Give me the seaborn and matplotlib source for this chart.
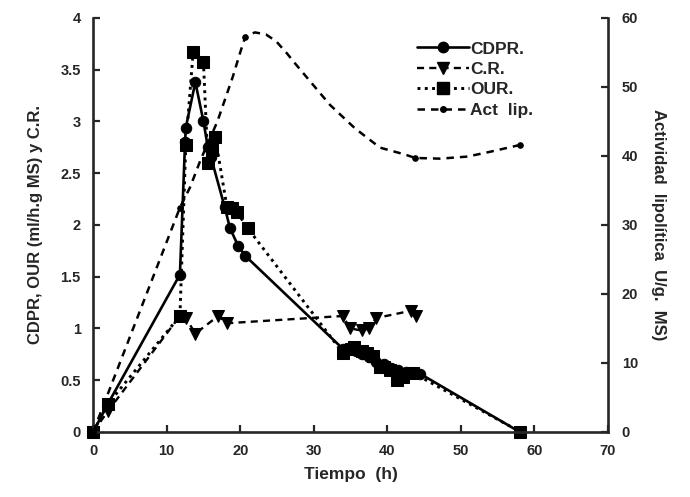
import matplotlib
matplotlib.use("Agg")
import matplotlib.pyplot as plt
import seaborn as sns
import pandas as pd
from matplotlib.lines import Line2D
from matplotlib.ticker import FuncFormatter

# ---- data ----
cdpr_t = [0, 2.0, 11.8, 12.5, 12.6, 13.9, 15.0, 15.6, 16.0, 17.9, 18.6, 19.7, 20.7,
          34.0, 35.0, 35.8, 36.6, 37.5, 38.5, 39.5, 40.5, 41.5, 42.5, 43.5, 44.5, 58.0]
cdpr_v = [0, 0.27, 1.52, 2.80, 2.94, 3.38, 3.00, 2.75, 2.66, 2.17, 1.97, 1.80, 1.70,
          0.80, 0.82, 0.78, 0.75, 0.72, 0.68, 0.66, 0.62, 0.60, 0.58, 0.57, 0.56, 0]

cr_t = [0, 2.0, 11.8, 12.6, 13.9, 17.0, 18.2, 34.0, 34.9, 36.5, 37.5, 38.5, 43.2, 43.9]
cr_v = [0, 0.20, 1.12, 1.10, 0.95, 1.12, 1.05, 1.12, 1.00, 0.98, 1.00, 1.10, 1.17, 1.12]

our_t = [0, 2.0, 11.8, 12.6, 13.6, 15.0, 15.6, 16.2, 16.6, 18.2, 18.9, 19.6, 21.0,
         34.0, 35.0, 35.5, 36.5, 37.3, 38.1, 39.0, 39.5, 40.4, 41.3, 42.2, 43.5, 58.1]
our_v = [0, 0.27, 1.12, 2.77, 3.67, 3.57, 2.60, 2.72, 2.85, 2.17, 2.16, 2.12, 1.97,
         0.76, 0.80, 0.82, 0.78, 0.76, 0.73, 0.63, 0.63, 0.60, 0.50, 0.53, 0.57, 0]

lip_t = [0, 11.8, 13.2, 14.6, 16.9, 19.0, 20.0, 20.7, 22.0, 23.5, 24.9, 26.4, 27.3, 32.2,
         35.6, 39.0, 42.4, 43.8, 47.2, 50.9, 54.0, 58.1]
lip_v = [0, 32.5, 35.5, 39.4, 45.0, 51.5, 55.0, 57.3, 57.9, 57.6, 56.6, 54.8, 53.6, 47.4,
         44.0, 41.2, 40.2, 39.7, 39.6, 39.9, 40.6, 41.6]
lip_marks = [0, 1, 7, 17, 21]

x_ticks = [0, 10, 20, 30, 40, 50, 60, 70]
yl_ticks = [0, 0.5, 1, 1.5, 2, 2.5, 3, 3.5, 4]
yr_ticks = [0, 10, 20, 30, 40, 50, 60]

labels = ["CDPR.", "C.R.", "OUR.", "Act  lip."]

# ---- style ----
sns.set_style("ticks")
plt.rcParams['font.family'] = ['Liberation Sans', 'DejaVu Sans']
plt.rcParams['font.weight'] = 'bold'
plt.rcParams['axes.labelweight'] = 'bold'

fig = plt.figure(figsize=(6.9, 4.97), dpi=100)
ax = fig.add_axes([0.135, 0.131, 0.746, 0.833])
ax2 = ax.twinx()

k = 'black'
dash_cr = (3.0, 2.2)
dot_our = (1.0, 1.5)
dash_lip = (3.0, 2.4)

sns.lineplot(x=cdpr_t, y=cdpr_v, ax=ax, color=k, lw=1.9, marker='o', markersize=7.5,
             markeredgecolor=k, sort=False, estimator=None, legend=False, clip_on=False)
sns.lineplot(x=cr_t, y=cr_v, ax=ax, color=k, lw=1.7, marker='v', markersize=8.5,
             markeredgecolor=k, sort=False, estimator=None, legend=False, clip_on=False,
             linestyle=(0, dash_cr))
sns.lineplot(x=our_t, y=our_v, ax=ax, color=k, lw=2.1, marker='s', markersize=8,
             markeredgecolor=k, sort=False, estimator=None, legend=False, clip_on=False,
             linestyle=(0, dot_our))
sns.lineplot(x=lip_t, y=lip_v, ax=ax2, color=k, lw=1.8, marker='o', markersize=4,
             markevery=lip_marks, markeredgecolor=k, sort=False, estimator=None,
             legend=False, clip_on=False, linestyle=(0, dash_lip))

for a in (ax, ax2):
    a.set_xlim(0, 70)
    a.spines['top'].set_visible(False)
    for s in ('left', 'right', 'bottom'):
        a.spines[s].set_linewidth(1.9)
ax.spines['right'].set_visible(False)
ax2.spines['left'].set_visible(False)
ax2.spines['bottom'].set_visible(False)

ax.set_ylim(0, 4)
ax2.set_ylim(0, 60)
ax.set_xticks(x_ticks)
ax.set_yticks(yl_ticks)
ax2.set_yticks(yr_ticks)
fmt = FuncFormatter(lambda v, p: f"{v:g}")
ax.yaxis.set_major_formatter(fmt)
ax2.yaxis.set_major_formatter(fmt)
ax.tick_params(axis='both', direction='in', length=5, width=1.6, labelsize=10.5, pad=9)
ax2.tick_params(axis='y', direction='in', length=5, width=1.6, labelsize=10.5, pad=10)
for lbl in ax.get_xticklabels() + ax.get_yticklabels() + ax2.get_yticklabels():
    lbl.set_fontweight('bold')

ax.set_xlabel("Tiempo  (h)", fontsize=12.5, fontweight='bold', labelpad=6)
ax.set_ylabel("CDPR, OUR (ml/h.g MS) y C.R.", fontsize=12, fontweight='bold', labelpad=12)
ax2.set_ylabel("Actividad  lipolítica  U/g.  MS)", fontsize=12, fontweight='bold',
               rotation=270, labelpad=20)

handles = [
    Line2D([], [], color=k, lw=1.9, marker='o', markersize=7.5),
    Line2D([], [], color=k, lw=1.7, marker='v', markersize=8.5, linestyle=(0, dash_cr)),
    Line2D([], [], color=k, lw=2.1, marker='s', markersize=8, linestyle=(0, dot_our)),
    Line2D([], [], color=k, lw=1.8, marker='o', markersize=4, linestyle=(0, dash_lip)),
]
ax2.legend(handles, labels, loc='upper left', bbox_to_anchor=(0.615, 0.96), frameon=False,
           fontsize=12.5, handlelength=3.0, handletextpad=0.1, labelspacing=0.3,
           borderaxespad=0)

fig.savefig("out.png", dpi=100)
